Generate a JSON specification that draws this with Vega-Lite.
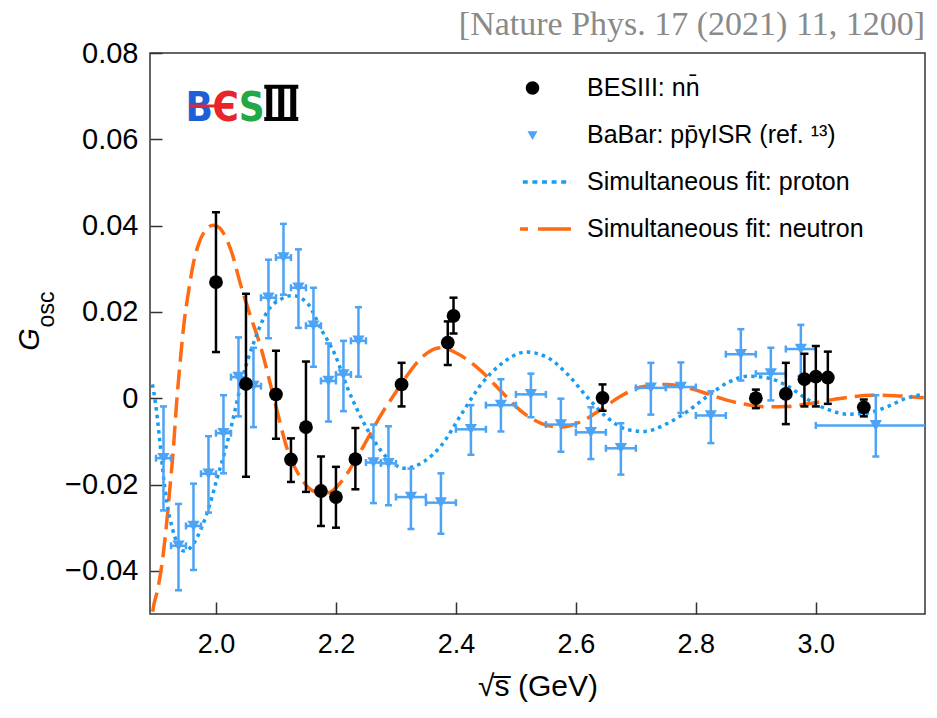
{
  "$schema": "https://vega.github.io/schema/vega-lite/v6.json",
  "width": 775,
  "height": 561,
  "autosize": "none",
  "padding": {"left": 150, "top": 53, "right": 12, "bottom": 104},
  "background": "white",
  "title": {"text": "[Nature Phys. 17 (2021) 11, 1200]", "anchor": "end", "font": "Liberation Serif", "fontSize": 34, "fontWeight": "normal", "color": "#8a8a8a", "offset": -3},
  "config": {
    "view": {"stroke": "#333", "strokeWidth": 1.5},
    "axis": {"domain": false, "grid": false, "tickSize": -12, "tickWidth": 1.5, "tickColor": "#333", "labelFont": "Liberation Sans", "labelFontSize": 29, "labelColor": "black", "titleFont": "Liberation Sans", "titleFontSize": 30, "titleFontWeight": "normal", "titleColor": "black", "labelFlush": false}
  },
  "datasets": {
    "proton": [
      {"s":"proton","x":1.8940,"y":0.0032},{"s":"proton","x":1.8995,"y":-0.0015},{"s":"proton","x":1.9060,"y":-0.0095},{"s":"proton","x":1.9115,"y":-0.0170},{"s":"proton","x":1.9180,"y":-0.0240},{"s":"proton","x":1.9270,"y":-0.0300},{"s":"proton","x":1.9350,"y":-0.0335},{"s":"proton","x":1.9460,"y":-0.0354},{"s":"proton","x":1.9600,"y":-0.0342},{"s":"proton","x":1.9760,"y":-0.0300},{"s":"proton","x":1.9900,"y":-0.0245},{"s":"proton","x":2.0020,"y":-0.0185},{"s":"proton","x":2.0155,"y":-0.0120},{"s":"proton","x":2.0293,"y":-0.0043},{"s":"proton","x":2.0433,"y":0.0042},{"s":"proton","x":2.0640,"y":0.0133},{"s":"proton","x":2.0865,"y":0.0203},{"s":"proton","x":2.1087,"y":0.0230},{"s":"proton","x":2.1280,"y":0.0238},{"s":"proton","x":2.1530,"y":0.0219},{"s":"proton","x":2.1753,"y":0.0160},{"s":"proton","x":2.1975,"y":0.0104},{"s":"proton","x":2.2198,"y":0.0022},{"s":"proton","x":2.2420,"y":-0.0045},{"s":"proton","x":2.2642,"y":-0.0100},{"s":"proton","x":2.2865,"y":-0.0140},{"s":"proton","x":2.3142,"y":-0.0162},{"s":"proton","x":2.3475,"y":-0.0146},{"s":"proton","x":2.3753,"y":-0.0110},{"s":"proton","x":2.4087,"y":-0.0038},{"s":"proton","x":2.4420,"y":0.0032},{"s":"proton","x":2.4753,"y":0.0079},{"s":"proton","x":2.5170,"y":0.0107},{"s":"proton","x":2.5530,"y":0.0094},{"s":"proton","x":2.5864,"y":0.0055},{"s":"proton","x":2.6198,"y":0.0001},{"s":"proton","x":2.6532,"y":-0.0046},{"s":"proton","x":2.6865,"y":-0.0073},{"s":"proton","x":2.7140,"y":-0.0077},{"s":"proton","x":2.7530,"y":-0.0058},{"s":"proton","x":2.7865,"y":-0.0030},{"s":"proton","x":2.8198,"y":0.0005},{"s":"proton","x":2.8530,"y":0.0036},{"s":"proton","x":2.8865,"y":0.0051},{"s":"proton","x":2.9200,"y":0.0047},{"s":"proton","x":2.9530,"y":0.0028},{"s":"proton","x":2.9865,"y":-0.0003},{"s":"proton","x":3.0200,"y":-0.0026},{"s":"proton","x":3.0530,"y":-0.0037},{"s":"proton","x":3.0865,"y":-0.0034},{"s":"proton","x":3.1200,"y":-0.0019},{"s":"proton","x":3.1530,"y":0.0001},{"s":"proton","x":3.1800,"y":0.0009}
    ],
    "neutron": [
      {"s":"neutron","x":1.8900,"y":-0.0560},{"s":"neutron","x":1.8938,"y":-0.0503},{"s":"neutron","x":1.9038,"y":-0.0437},{"s":"neutron","x":1.9122,"y":-0.0360},{"s":"neutron","x":1.9177,"y":-0.0290},{"s":"neutron","x":1.9233,"y":-0.0206},{"s":"neutron","x":1.9288,"y":-0.0120},{"s":"neutron","x":1.9343,"y":-0.0012},{"s":"neutron","x":1.9400,"y":0.0080},{"s":"neutron","x":1.9472,"y":0.0180},{"s":"neutron","x":1.9538,"y":0.0243},{"s":"neutron","x":1.9622,"y":0.0312},{"s":"neutron","x":1.9705,"y":0.0355},{"s":"neutron","x":1.9817,"y":0.0388},{"s":"neutron","x":1.9955,"y":0.0401},{"s":"neutron","x":2.0067,"y":0.0394},{"s":"neutron","x":2.0127,"y":0.0382},{"s":"neutron","x":2.0267,"y":0.0336},{"s":"neutron","x":2.0405,"y":0.0266},{"s":"neutron","x":2.0543,"y":0.0204},{"s":"neutron","x":2.0753,"y":0.0115},{"s":"neutron","x":2.0975,"y":-0.0005},{"s":"neutron","x":2.1198,"y":-0.0122},{"s":"neutron","x":2.1420,"y":-0.0186},{"s":"neutron","x":2.1642,"y":-0.0216},{"s":"neutron","x":2.1865,"y":-0.0219},{"s":"neutron","x":2.2087,"y":-0.0194},{"s":"neutron","x":2.2310,"y":-0.0147},{"s":"neutron","x":2.2531,"y":-0.0093},{"s":"neutron","x":2.2753,"y":-0.0038},{"s":"neutron","x":2.2975,"y":0.0009},{"s":"neutron","x":2.3198,"y":0.0055},{"s":"neutron","x":2.3475,"y":0.0100},{"s":"neutron","x":2.3753,"y":0.0117},{"s":"neutron","x":2.4030,"y":0.0103},{"s":"neutron","x":2.4420,"y":0.0063},{"s":"neutron","x":2.4753,"y":0.0016},{"s":"neutron","x":2.5087,"y":-0.0030},{"s":"neutron","x":2.5420,"y":-0.0058},{"s":"neutron","x":2.5753,"y":-0.0067},{"s":"neutron","x":2.6087,"y":-0.0054},{"s":"neutron","x":2.6420,"y":-0.0026},{"s":"neutron","x":2.6753,"y":0.0005},{"s":"neutron","x":2.7087,"y":0.0026},{"s":"neutron","x":2.7530,"y":0.0032},{"s":"neutron","x":2.7865,"y":0.0024},{"s":"neutron","x":2.8198,"y":0.0010},{"s":"neutron","x":2.8530,"y":-0.0005},{"s":"neutron","x":2.8865,"y":-0.0015},{"s":"neutron","x":2.9200,"y":-0.0020},{"s":"neutron","x":2.9530,"y":-0.0019},{"s":"neutron","x":2.9865,"y":-0.0013},{"s":"neutron","x":3.0200,"y":-0.0005},{"s":"neutron","x":3.0530,"y":0.0002},{"s":"neutron","x":3.0920,"y":0.0007},{"s":"neutron","x":3.1310,"y":0.0006},{"s":"neutron","x":3.1800,"y":0.0001}
    ],
    "bes": [
      {"x":2.0000,"y":0.0269,"lo":0.0107,"hi":0.0431},
      {"x":2.0500,"y":0.0033,"lo":-0.0182,"hi":0.0242},
      {"x":2.1000,"y":0.0009,"lo":-0.0094,"hi":0.0110},
      {"x":2.1250,"y":-0.0142,"lo":-0.0194,"hi":-0.0093},
      {"x":2.1500,"y":-0.0067,"lo":-0.0217,"hi":0.0085},
      {"x":2.1750,"y":-0.0215,"lo":-0.0296,"hi":-0.0135},
      {"x":2.2000,"y":-0.0229,"lo":-0.0300,"hi":-0.0159},
      {"x":2.2324,"y":-0.0141,"lo":-0.0211,"hi":-0.0069},
      {"x":2.3094,"y":0.0032,"lo":-0.0019,"hi":0.0082},
      {"x":2.3864,"y":0.0129,"lo":0.0077,"hi":0.0178},
      {"x":2.3960,"y":0.0191,"lo":0.0150,"hi":0.0233},
      {"x":2.6444,"y":0.0001,"lo":-0.0029,"hi":0.0032},
      {"x":2.9000,"y":0.0000,"lo":-0.0023,"hi":0.0020},
      {"x":2.9500,"y":0.0010,"lo":-0.0060,"hi":0.0082},
      {"x":2.9810,"y":0.0044,"lo":-0.0019,"hi":0.0103},
      {"x":3.0000,"y":0.0050,"lo":-0.0019,"hi":0.0121},
      {"x":3.0200,"y":0.0048,"lo":-0.0013,"hi":0.0108},
      {"x":3.0800,"y":-0.0021,"lo":-0.0042,"hi":-0.0003}
    ],
    "babar": [
      {"x":1.9125,"y":-0.0139,"lo":-0.0260,"hi":-0.0019,"xlo":1.9000,"xhi":1.9250},
      {"x":1.9375,"y":-0.0342,"lo":-0.0445,"hi":-0.0245,"xlo":1.9250,"xhi":1.9500},
      {"x":1.9625,"y":-0.0296,"lo":-0.0398,"hi":-0.0198,"xlo":1.9500,"xhi":1.9750},
      {"x":1.9875,"y":-0.0175,"lo":-0.0265,"hi":-0.0088,"xlo":1.9750,"xhi":2.0000},
      {"x":2.0125,"y":-0.0081,"lo":-0.0174,"hi":0.0007,"xlo":2.0000,"xhi":2.0250},
      {"x":2.0375,"y":0.0049,"lo":-0.0042,"hi":0.0141,"xlo":2.0250,"xhi":2.0500},
      {"x":2.0625,"y":0.0028,"lo":-0.0067,"hi":0.0117,"xlo":2.0500,"xhi":2.0750},
      {"x":2.0875,"y":0.0233,"lo":0.0139,"hi":0.0321,"xlo":2.0750,"xhi":2.1000},
      {"x":2.1125,"y":0.0326,"lo":0.0240,"hi":0.0404,"xlo":2.1000,"xhi":2.1250},
      {"x":2.1375,"y":0.0256,"lo":0.0163,"hi":0.0345,"xlo":2.1250,"xhi":2.1500},
      {"x":2.1625,"y":0.0168,"lo":0.0073,"hi":0.0256,"xlo":2.1500,"xhi":2.1750},
      {"x":2.1875,"y":0.0040,"lo":-0.0054,"hi":0.0127,"xlo":2.1750,"xhi":2.2000},
      {"x":2.2125,"y":0.0055,"lo":-0.0030,"hi":0.0133,"xlo":2.2000,"xhi":2.2250},
      {"x":2.2375,"y":0.0133,"lo":0.0050,"hi":0.0211,"xlo":2.2250,"xhi":2.2500},
      {"x":2.2625,"y":-0.0149,"lo":-0.0243,"hi":-0.0061,"xlo":2.2500,"xhi":2.2750},
      {"x":2.2875,"y":-0.0151,"lo":-0.0248,"hi":-0.0065,"xlo":2.2750,"xhi":2.3000},
      {"x":2.3250,"y":-0.0229,"lo":-0.0303,"hi":-0.0163,"xlo":2.3000,"xhi":2.3500},
      {"x":2.3750,"y":-0.0242,"lo":-0.0314,"hi":-0.0174,"xlo":2.3500,"xhi":2.4000},
      {"x":2.4250,"y":-0.0072,"lo":-0.0131,"hi":-0.0016,"xlo":2.4000,"xhi":2.4500},
      {"x":2.4750,"y":-0.0016,"lo":-0.0077,"hi":0.0044,"xlo":2.4500,"xhi":2.5000},
      {"x":2.5250,"y":0.0009,"lo":-0.0044,"hi":0.0057,"xlo":2.5000,"xhi":2.5500},
      {"x":2.5750,"y":-0.0061,"lo":-0.0124,"hi":-0.0001,"xlo":2.5500,"xhi":2.6000},
      {"x":2.6250,"y":-0.0079,"lo":-0.0141,"hi":-0.0021,"xlo":2.6000,"xhi":2.6500},
      {"x":2.6750,"y":-0.0116,"lo":-0.0177,"hi":-0.0058,"xlo":2.6500,"xhi":2.7000},
      {"x":2.7250,"y":0.0024,"lo":-0.0038,"hi":0.0082,"xlo":2.7000,"xhi":2.7500},
      {"x":2.7750,"y":0.0026,"lo":-0.0034,"hi":0.0083,"xlo":2.7500,"xhi":2.8000},
      {"x":2.8250,"y":-0.0040,"lo":-0.0104,"hi":0.0016,"xlo":2.8000,"xhi":2.8500},
      {"x":2.8750,"y":0.0102,"lo":0.0041,"hi":0.0160,"xlo":2.8500,"xhi":2.9000},
      {"x":2.9250,"y":0.0057,"lo":-0.0005,"hi":0.0117,"xlo":2.9000,"xhi":2.9500},
      {"x":2.9750,"y":0.0114,"lo":0.0051,"hi":0.0170,"xlo":2.9500,"xhi":3.0000},
      {"x":3.1000,"y":-0.0063,"lo":-0.0135,"hi":0.0007,"xlo":3.0000,"xhi":3.2000}
    ]
  },
  "layer": [
    {
      "layer": [
        {
          "data": {"name": "neutron"},
          "mark": {"type": "line", "strokeWidth": 3.5, "strokeDash": [20, 8], "clip": true, "interpolate": "monotone"},
          "encoding": {
            "x": {"field": "x", "type": "quantitative", "scale": {"domain": [1.89, 3.182], "nice": false, "zero": false},
                  "axis": {"title": "√s̅ (GeV)", "values": [2.0, 2.2, 2.4, 2.6, 2.8, 3.0], "format": ".1f", "labelFontSize": 27, "labelPadding": 29, "titlePadding": 14}},
            "y": {"field": "y", "type": "quantitative", "scale": {"domain": [-0.05, 0.08], "nice": false, "zero": false},
                  "axis": {"title": "G", "values": [-0.04, -0.02, 0, 0.02, 0.04, 0.06, 0.08], "labelExpr": "datum.value == 0 ? '0' : format(datum.value, '.2f')", "labelPadding": 24, "titleFontStyle": "italic", "titleFontSize": 29, "titleX": -112, "titleY": 286, "titleAngle": 270, "titleAlign": "center", "titleBaseline": "alphabetic"}},
            "color": {"field": "s", "type": "nominal",
                      "scale": {"domain": ["bes", "babar", "proton", "neutron"], "range": ["black", "#4da3f5", "#1a9cf0", "#ff6a13"]},
                      "legend": {
                        "orient": "none", "legendX": 370, "legendY": 20, "title": null, "padding": 0,
                        "symbolType": "stroke", "symbolSize": 5929, "clipHeight": 30, "rowPadding": 17, "labelOffset": 42,
                        "labelFont": "Liberation Sans", "labelFontSize": 25, "labelColor": "black", "labelLimit": 500,
                        "labelExpr": "datum.value == 'bes' ? 'BESIII: nn̄' : datum.value == 'babar' ? 'BaBar: pp̄γISR (ref. ¹³)' : datum.value == 'proton' ? 'Simultaneous fit: proton' : 'Simultaneous fit: neutron'",
                        "encode": {"symbols": {"update": {
                          "shape": {"signal": "datum.value == 'bes' ? 'M0,-0.175A0.175,0.175,0,1,1,0,0.175A0.175,0.175,0,1,1,0,-0.175Z' : datum.value == 'babar' ? 'M-0.13,-0.1L0.13,-0.1L0,0.13Z' : 'stroke'"},
                          "fill": {"signal": "datum.value == 'bes' ? 'black' : datum.value == 'babar' ? '#4da3f5' : 'transparent'"},
                          "stroke": {"signal": "datum.value == 'bes' ? 'black' : datum.value == 'babar' ? '#4da3f5' : datum.value == 'proton' ? '#1a9cf0' : '#ff6a13'"},
                          "strokeWidth": {"signal": "datum.value == 'bes' || datum.value == 'babar' ? 0 : 3.5"},
                          "strokeDash": {"signal": "datum.value == 'proton' ? [5, 4.6] : datum.value == 'neutron' ? [34, 10] : [1, 0]"},
                          "opacity": {"value": 1}
                        }}}
                      }}
          }
        },
        {
          "data": {"name": "proton"},
          "mark": {"type": "line", "strokeWidth": 3.5, "strokeDash": [3.5, 4.2], "clip": true, "interpolate": "monotone"},
          "encoding": {
            "x": {"field": "x", "type": "quantitative", "scale": {"domain": [1.89, 3.182], "nice": false, "zero": false}},
            "y": {"field": "y", "type": "quantitative", "scale": {"domain": [-0.05, 0.08], "nice": false, "zero": false}},
            "color": {"field": "s", "type": "nominal"}
          }
        },
        {
          "data": {"name": "babar"},
          "mark": {"type": "rule", "color": "#4da3f5", "strokeWidth": 2.5},
          "encoding": {
            "x": {"field": "x", "type": "quantitative", "scale": {"domain": [1.89, 3.182], "nice": false, "zero": false}},
            "y": {"field": "lo", "type": "quantitative", "scale": {"domain": [-0.05, 0.08], "nice": false, "zero": false}},
            "y2": {"field": "hi"}
          }
        },
        {
          "data": {"name": "babar"},
          "mark": {"type": "rule", "color": "#4da3f5", "strokeWidth": 2.5, "clip": true},
          "encoding": {
            "x": {"field": "xlo", "type": "quantitative", "scale": {"domain": [1.89, 3.182], "nice": false, "zero": false}},
            "x2": {"field": "xhi"},
            "y": {"field": "y", "type": "quantitative", "scale": {"domain": [-0.05, 0.08], "nice": false, "zero": false}}
          }
        },
        {
          "data": {"name": "babar"},
          "mark": {"type": "tick", "orient": "horizontal", "color": "#4da3f5", "size": 7, "thickness": 2.5, "opacity": 1},
          "encoding": {
            "x": {"field": "x", "type": "quantitative", "scale": {"domain": [1.89, 3.182], "nice": false, "zero": false}},
            "y": {"field": "lo", "type": "quantitative", "scale": {"domain": [-0.05, 0.08], "nice": false, "zero": false}}
          }
        },
        {
          "data": {"name": "babar"},
          "mark": {"type": "tick", "orient": "horizontal", "color": "#4da3f5", "size": 7, "thickness": 2.5, "opacity": 1},
          "encoding": {
            "x": {"field": "x", "type": "quantitative", "scale": {"domain": [1.89, 3.182], "nice": false, "zero": false}},
            "y": {"field": "hi", "type": "quantitative", "scale": {"domain": [-0.05, 0.08], "nice": false, "zero": false}}
          }
        },
        {
          "data": {"name": "babar"},
          "mark": {"type": "tick", "orient": "vertical", "color": "#4da3f5", "size": 7, "thickness": 2.5, "opacity": 1},
          "encoding": {
            "x": {"field": "xlo", "type": "quantitative", "scale": {"domain": [1.89, 3.182], "nice": false, "zero": false}},
            "y": {"field": "y", "type": "quantitative", "scale": {"domain": [-0.05, 0.08], "nice": false, "zero": false}}
          }
        },
        {
          "data": {"name": "babar"},
          "mark": {"type": "tick", "orient": "vertical", "color": "#4da3f5", "size": 7, "thickness": 2.5, "opacity": 1, "clip": true},
          "encoding": {
            "x": {"field": "xhi", "type": "quantitative", "scale": {"domain": [1.89, 3.182], "nice": false, "zero": false}},
            "y": {"field": "y", "type": "quantitative", "scale": {"domain": [-0.05, 0.08], "nice": false, "zero": false}}
          }
        },
        {
          "data": {"name": "babar"},
          "mark": {"type": "point", "shape": "triangle-down", "filled": true, "color": "#4da3f5", "size": 150, "opacity": 1},
          "encoding": {
            "x": {"field": "x", "type": "quantitative", "scale": {"domain": [1.89, 3.182], "nice": false, "zero": false}},
            "y": {"field": "y", "type": "quantitative", "scale": {"domain": [-0.05, 0.08], "nice": false, "zero": false}}
          }
        },
        {
          "data": {"name": "bes"},
          "mark": {"type": "rule", "color": "black", "strokeWidth": 2.5},
          "encoding": {
            "x": {"field": "x", "type": "quantitative", "scale": {"domain": [1.89, 3.182], "nice": false, "zero": false}},
            "y": {"field": "lo", "type": "quantitative", "scale": {"domain": [-0.05, 0.08], "nice": false, "zero": false}},
            "y2": {"field": "hi"}
          }
        },
        {
          "data": {"name": "bes"},
          "mark": {"type": "tick", "orient": "horizontal", "color": "black", "size": 8, "thickness": 2.5, "opacity": 1},
          "encoding": {
            "x": {"field": "x", "type": "quantitative", "scale": {"domain": [1.89, 3.182], "nice": false, "zero": false}},
            "y": {"field": "lo", "type": "quantitative", "scale": {"domain": [-0.05, 0.08], "nice": false, "zero": false}}
          }
        },
        {
          "data": {"name": "bes"},
          "mark": {"type": "tick", "orient": "horizontal", "color": "black", "size": 8, "thickness": 2.5, "opacity": 1},
          "encoding": {
            "x": {"field": "x", "type": "quantitative", "scale": {"domain": [1.89, 3.182], "nice": false, "zero": false}},
            "y": {"field": "hi", "type": "quantitative", "scale": {"domain": [-0.05, 0.08], "nice": false, "zero": false}}
          }
        },
        {
          "data": {"name": "bes"},
          "mark": {"type": "point", "shape": "circle", "filled": true, "color": "black", "size": 190, "opacity": 1},
          "encoding": {
            "x": {"field": "x", "type": "quantitative", "scale": {"domain": [1.89, 3.182], "nice": false, "zero": false}},
            "y": {"field": "y", "type": "quantitative", "scale": {"domain": [-0.05, 0.08], "nice": false, "zero": false}}
          }
        },
        {
          "data": {"values": [{}]},
          "mark": {"type": "text", "text": "B", "font": "DejaVu Sans Condensed, DejaVu Sans, sans-serif", "fontWeight": "bold", "fontSize": 40, "color": "#1c5fd6", "align": "center", "baseline": "alphabetic"},
          "encoding": {
            "x": {"datum": 1.9722, "type": "quantitative", "scale": {"domain": [1.89, 3.182], "nice": false, "zero": false}},
            "y": {"datum": 0.0643, "type": "quantitative", "scale": {"domain": [-0.05, 0.08], "nice": false, "zero": false}}
          }
        },
        {
          "data": {"values": [{}]},
          "mark": {"type": "text", "text": "Є", "font": "DejaVu Sans Condensed, DejaVu Sans, sans-serif", "fontWeight": "bold", "fontSize": 40, "color": "#e8252b", "align": "center", "baseline": "alphabetic"},
          "encoding": {
            "x": {"datum": 2.0164, "type": "quantitative", "scale": {"domain": [1.89, 3.182], "nice": false, "zero": false}},
            "y": {"datum": 0.0643, "type": "quantitative", "scale": {"domain": [-0.05, 0.08], "nice": false, "zero": false}}
          }
        },
        {
          "data": {"values": [{}]},
          "mark": {"type": "rule", "color": "#e8252b", "strokeWidth": 3},
          "encoding": {
            "x": {"datum": 1.955, "type": "quantitative", "scale": {"domain": [1.89, 3.182], "nice": false, "zero": false}},
            "x2": {"datum": 2.010},
            "y": {"datum": 0.0677, "type": "quantitative", "scale": {"domain": [-0.05, 0.08], "nice": false, "zero": false}}
          }
        },
        {
          "data": {"values": [{}]},
          "mark": {"type": "text", "text": "S", "font": "DejaVu Sans Condensed, DejaVu Sans, sans-serif", "fontWeight": "bold", "fontSize": 40, "color": "#22a845", "align": "center", "baseline": "alphabetic"},
          "encoding": {
            "x": {"datum": 2.0597, "type": "quantitative", "scale": {"domain": [1.89, 3.182], "nice": false, "zero": false}},
            "y": {"datum": 0.0643, "type": "quantitative", "scale": {"domain": [-0.05, 0.08], "nice": false, "zero": false}}
          }
        },
        {
          "data": {"values": [{}]},
          "mark": {"type": "rule", "color": "black", "strokeWidth": 6},
          "encoding": {
            "x": {"datum": 2.0888, "type": "quantitative", "scale": {"domain": [1.89, 3.182], "nice": false, "zero": false}},
            "y": {"datum": 0.0645, "type": "quantitative", "scale": {"domain": [-0.05, 0.08], "nice": false, "zero": false}},
            "y2": {"datum": 0.0724}
          }
        },
        {
          "data": {"values": [{}]},
          "mark": {"type": "rule", "color": "black", "strokeWidth": 6},
          "encoding": {
            "x": {"datum": 2.1088, "type": "quantitative", "scale": {"domain": [1.89, 3.182], "nice": false, "zero": false}},
            "y": {"datum": 0.0645, "type": "quantitative", "scale": {"domain": [-0.05, 0.08], "nice": false, "zero": false}},
            "y2": {"datum": 0.0724}
          }
        },
        {
          "data": {"values": [{}]},
          "mark": {"type": "rule", "color": "black", "strokeWidth": 6},
          "encoding": {
            "x": {"datum": 2.1288, "type": "quantitative", "scale": {"domain": [1.89, 3.182], "nice": false, "zero": false}},
            "y": {"datum": 0.0645, "type": "quantitative", "scale": {"domain": [-0.05, 0.08], "nice": false, "zero": false}},
            "y2": {"datum": 0.0724}
          }
        },
        {
          "data": {"values": [{}]},
          "mark": {"type": "rule", "color": "black", "strokeWidth": 4},
          "encoding": {
            "x": {"datum": 2.0805, "type": "quantitative", "scale": {"domain": [1.89, 3.182], "nice": false, "zero": false}},
            "x2": {"datum": 2.1372},
            "y": {"datum": 0.0647, "type": "quantitative", "scale": {"domain": [-0.05, 0.08], "nice": false, "zero": false}}
          }
        },
        {
          "data": {"values": [{}]},
          "mark": {"type": "rule", "color": "black", "strokeWidth": 4},
          "encoding": {
            "x": {"datum": 2.0805, "type": "quantitative", "scale": {"domain": [1.89, 3.182], "nice": false, "zero": false}},
            "x2": {"datum": 2.1372},
            "y": {"datum": 0.0722, "type": "quantitative", "scale": {"domain": [-0.05, 0.08], "nice": false, "zero": false}}
          }
        }
      ]
    },
    {
      "data": {"name": "bes"},
      "mark": {"type": "point", "opacity": 0},
      "encoding": {
        "x": {"field": "x", "type": "quantitative", "scale": {"domain": [1.89, 3.182], "nice": false, "zero": false}},
        "y": {"field": "y", "type": "quantitative", "scale": {"domain": [-0.05, 0.08], "nice": false, "zero": false},
              "axis": {"orient": "left", "title": "osc", "labels": false, "ticks": false, "domain": false, "grid": false, "titleFontSize": 23, "titleFontStyle": "normal", "titleX": -97, "titleY": 256, "titleAngle": 270, "titleAlign": "center", "titleBaseline": "alphabetic"}}
      }
    }
  ],
  "resolve": {"axis": {"y": "independent"}}
}
